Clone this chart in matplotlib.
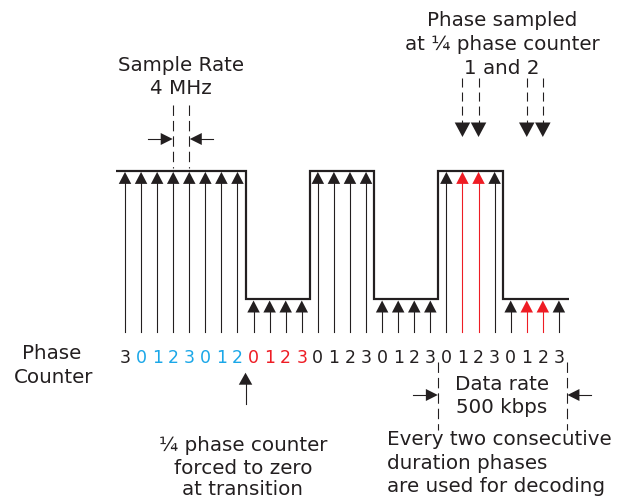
import numpy as np
import matplotlib
matplotlib.use("Agg")
from matplotlib import pyplot as plt

plt.rcParams['font.family'] = ['DejaVu Sans']
plt.rcParams['lines.scale_dashes'] = False

# Данные диаграммы
phase_digits = [3, 0, 1, 2, 3, 0, 1, 2, 0, 1, 2, 3, 0, 1, 2, 3, 0, 1, 2, 3, 0, 1, 2, 3, 0, 1, 2, 3]
digit_colors = ['k'] + ['b'] * 7 + ['r'] * 4 + ['k'] * 16
levels = [1] * 8 + [0] * 4 + [1] * 4 + [0] * 4 + [1] * 4 + [0] * 4
red_samples = [21, 22, 25, 26]
sampled_marks = [21, 22, 25, 26]
rate_marks = [3, 4]
transition = 7.5
data_span = (19.5, 27.5)

COL = {'k': '#231f20', 'b': '#1aa7e8', 'r': '#ee1c24'}
BLACK = COL['k']

# Геометрия в пикселях
x0, dx = 125.0, 16.07
y_hi, y_lo = 170.7, 299.3
y_bottom = 332
px = 0.72  # 1 пиксель в пунктах


def xs(i):
    return x0 + dx * np.asarray(i, dtype=float)


def head_v(ax, x, tip, h, w, color, up=True):
    s = 1 if up else -1
    ax.fill([x - w / 2, x + w / 2, x], [tip + s * h, tip + s * h, tip], color=color, lw=0)


def head_h(ax, y, tip, h, w, color, right=True):
    s = -1 if right else 1
    ax.fill([tip + s * h, tip + s * h, tip], [y - w / 2, y + w / 2, y], color=color, lw=0)


fig = plt.figure(figsize=(6.19, 4.98), dpi=100)
ax = fig.add_axes([0, 0, 1, 1])
ax.set_xlim(0, 619)
ax.set_ylim(498, 0)
ax.axis('off')

# Сигнал
lev_y = [y_hi if v else y_lo for v in levels]
wx = [xs(-0.57)]
wy = [lev_y[0]]
for i in range(1, len(levels)):
    if levels[i] != levels[i - 1]:
        xb = xs(i - 0.5)
        wx += [xb, xb]
        wy += [lev_y[i - 1], lev_y[i]]
wx.append(xs(len(levels) - 0.4))
wy.append(lev_y[-1])
ax.plot(wx, wy, color=BLACK, lw=2.2 * px, solid_joinstyle='miter', solid_capstyle='butt')

# Стрелки отсчётов
for i, v in enumerate(levels):
    c = COL['r'] if i in red_samples else BLACK
    tip = lev_y[i] + 1.2
    ax.plot([xs(i), xs(i)], [y_bottom, tip + 11], color=c, lw=1.1 * px)
    head_v(ax, xs(i), tip, 12, 12.5, c)

# Цифры фазового счётчика
for i, d in enumerate(phase_digits):
    ax.text(xs(i), 362.5, str(d), color=COL[digit_colors[i]], fontsize=12.5,
            ha='center', va='baseline')

fs = 14.3
ax.text(52, 359, "Phase", fontsize=fs, color=BLACK, ha='center', va='baseline')
ax.text(54, 383, "Counter", fontsize=fs, color=BLACK, ha='center', va='baseline')

# Частота дискретизации
ax.text(181, 70.5, "Sample Rate", fontsize=fs, color=BLACK, ha='center', va='baseline')
ax.text(181, 93.5, "4 MHz", fontsize=fs, color=BLACK, ha='center', va='baseline')
for i in rate_marks:
    ax.plot([xs(i), xs(i)], [105, 168], color=BLACK, lw=1.1 * px,
            linestyle=(0, (7.5, 3.6)))
ax.plot([148, 162], [139, 139], color=BLACK, lw=1.1 * px)
head_h(ax, 139, xs(rate_marks[0]) - 0.5, 12, 12, BLACK, right=True)
ax.plot([200, 213], [139, 139], color=BLACK, lw=1.1 * px)
head_h(ax, 139, xs(rate_marks[1]) + 0.5, 12, 12, BLACK, right=False)

# Фаза в точках 1 и 2
ax.text(502, 26, "Phase sampled", fontsize=fs, color=BLACK, ha='center', va='baseline')
ax.text(502, 50, "at ¼ phase counter", fontsize=fs, color=BLACK, ha='center', va='baseline')
ax.text(502, 74, "1 and 2", fontsize=fs, color=BLACK, ha='center', va='baseline')
for i in sampled_marks:
    ax.plot([xs(i), xs(i)], [78, 123], color=BLACK, lw=1.1 * px,
            linestyle=(0, (6.5, 3.6)))
    head_v(ax, xs(i), 137, 14.5, 15.5, BLACK, up=False)

# Переход
xt = xs(transition)
ax.plot([xt, xt], [404, 383], color=BLACK, lw=1.1 * px)
head_v(ax, xt, 372.7, 12, 13.5, BLACK)
ax.text(243, 450.5, "¼ phase counter", fontsize=fs, color=BLACK, ha='center', va='baseline')
ax.text(243, 473.5, "forced to zero", fontsize=fs, color=BLACK, ha='center', va='baseline')
ax.text(243, 495, "at transition", fontsize=fs, color=BLACK, ha='center', va='baseline')

# Скорость передачи
xa, xb = xs(data_span[0]), xs(data_span[1])
for xv in (xa, xb):
    ax.plot([xv, xv], [362, 430], color=BLACK, lw=1.1 * px,
            linestyle=(0, (7.5, 3.6)))
ax.plot([413, 427], [395, 395], color=BLACK, lw=1.1 * px)
head_h(ax, 395, xa - 0.5, 12, 12, BLACK, right=True)
ax.plot([578, 591], [395, 395], color=BLACK, lw=1.1 * px)
head_h(ax, 395, xb + 0.5, 12, 12, BLACK, right=False)
ax.text(502, 390, "Data rate", fontsize=fs, color=BLACK, ha='center', va='baseline')
ax.text(502, 412.5, "500 kbps", fontsize=fs, color=BLACK, ha='center', va='baseline')
ax.text(387, 445, "Every two consecutive", fontsize=fs, color=BLACK, ha='left', va='baseline')
ax.text(387, 468.5, "duration phases", fontsize=fs, color=BLACK, ha='left', va='baseline')
ax.text(387, 491.5, "are used for decoding", fontsize=fs, color=BLACK, ha='left', va='baseline')

fig.savefig("out.png", dpi=100, facecolor='white')
